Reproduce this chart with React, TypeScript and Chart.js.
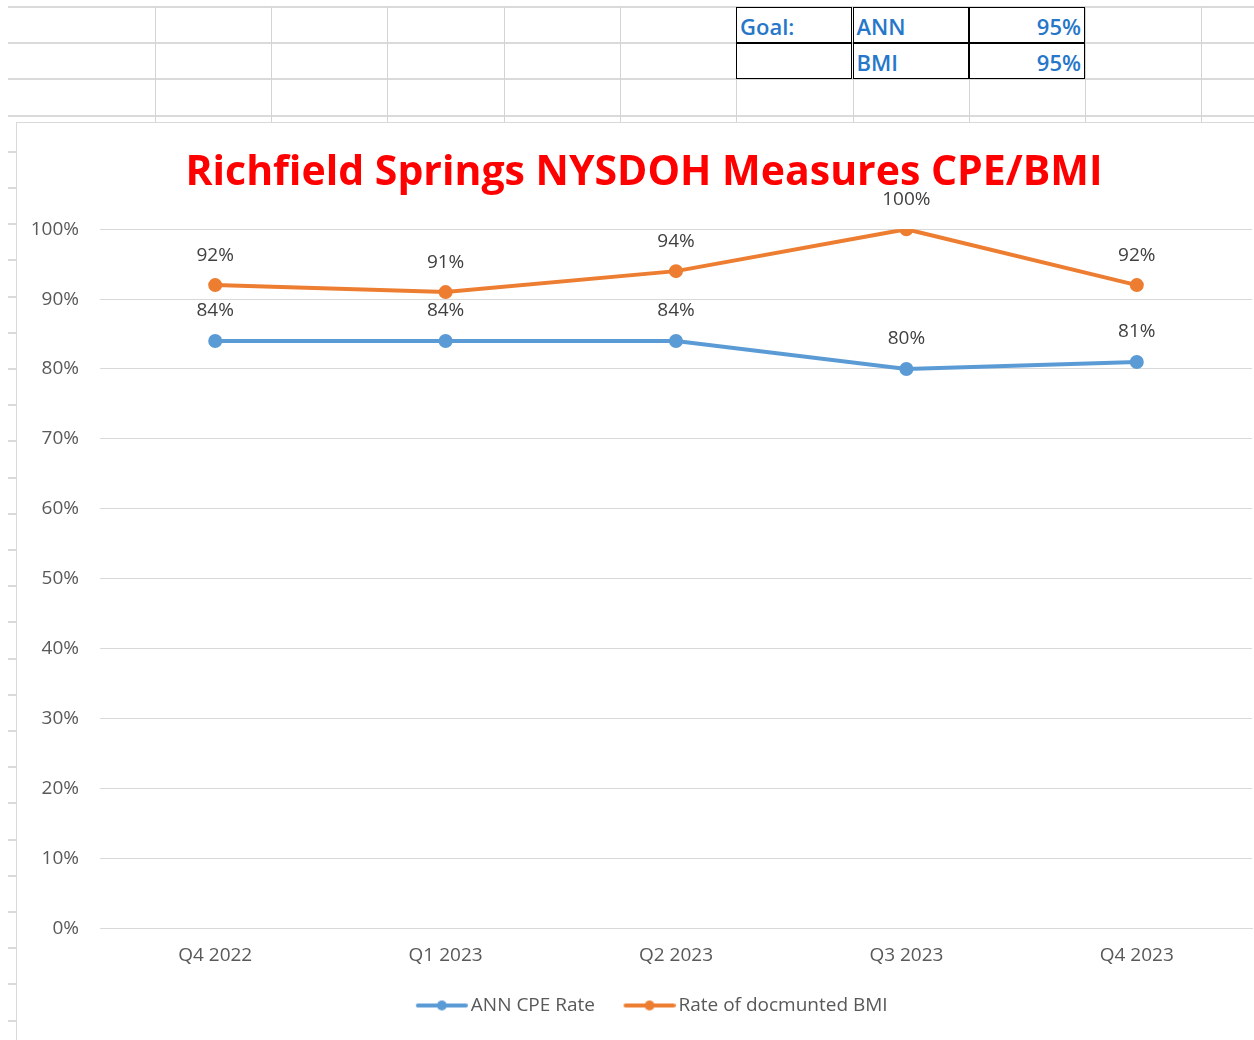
import React, { useEffect, useRef } from "react";
import { Chart, registerables } from "chart.js";

Chart.register(...registerables);

const categories = ["Q4 2022", "Q1 2023", "Q2 2023", "Q3 2023", "Q4 2023"];
const annCpeRate = [84, 84, 84, 80, 81];
const bmiRate = [92, 91, 94, 100, 92];
const seriesNames = ["ANN CPE Rate", "Rate of docmunted BMI"];
const goalRows = [
  ["Goal:", "ANN", "95%"],
  ["", "BMI", "95%"],
];
const chartTitle = "Richfield Springs NYSDOH Measures CPE/BMI";

const BLUE = "#5B9BD5";
const ORANGE = "#ED7D31";
const FONT = "'Open Sans', sans-serif";
const ICON_BOX = 61;

function legendIcon(color: string): HTMLCanvasElement {
  const c = document.createElement("canvas");
  const w = ICON_BOX + 13;
  c.width = w;
  c.height = 12;
  const ctx = c.getContext("2d")!;
  const x0 = w - 52;
  ctx.strokeStyle = color;
  ctx.lineWidth = 4;
  ctx.lineCap = "round";
  ctx.beginPath();
  ctx.moveTo(x0 + 2, 6);
  ctx.lineTo(x0 + 50, 6);
  ctx.stroke();
  ctx.fillStyle = color;
  ctx.beginPath();
  ctx.arc(x0 + 26, 6, 5, 0, Math.PI * 2);
  ctx.fill();
  return c;
}

const dataLabels = {
  id: "dataLabels",
  afterDatasetsDraw(chart: any) {
    const ctx = chart.ctx;
    ctx.save();
    ctx.font = `19px ${FONT}`;
    ctx.fillStyle = "#404040";
    ctx.textAlign = "center";
    ctx.textBaseline = "middle";
    chart.data.datasets.forEach((ds: any, i: number) => {
      const meta = chart.getDatasetMeta(i);
      meta.data.forEach((pt: any, j: number) => {
        ctx.fillText(`${ds.data[j]}%`, pt.x, pt.y - 30);
      });
    });
    ctx.restore();
  },
};

function ChartBox() {
  const ref = useRef<HTMLCanvasElement>(null);
  useEffect(() => {
    const chart = new Chart(ref.current!, {
      type: "line",
      data: {
        labels: categories,
        datasets: [
          {
            label: seriesNames[0],
            data: annCpeRate,
            borderColor: BLUE,
            backgroundColor: BLUE,
            borderWidth: 4,
            pointRadius: 5,
            pointHoverRadius: 5,
            tension: 0,
          },
          {
            label: seriesNames[1],
            data: bmiRate,
            borderColor: ORANGE,
            backgroundColor: ORANGE,
            borderWidth: 4,
            pointRadius: 5,
            pointHoverRadius: 5,
            tension: 0,
          },
        ],
      },
      options: {
        animation: false,
        responsive: false,
        devicePixelRatio: 1,
        layout: { autoPadding: false, padding: { top: 0, left: 12, right: -5, bottom: 15 } },
        plugins: {
          title: {
            display: true,
            text: chartTitle,
            color: "#FF0000",
            font: { family: FONT, size: 41, weight: "bold" },
            padding: { top: 26, bottom: 31 },
          },
          legend: {
            position: "bottom",
            labels: {
              usePointStyle: true,
              pointStyleWidth: ICON_BOX,
              boxHeight: 12,
              color: "#595959",
              font: { family: FONT, size: 19 },
              padding: 13,
              generateLabels: (c: any) =>
                c.data.datasets.map((ds: any, i: number) => ({
                  text: ds.label,
                  fillStyle: ds.borderColor,
                  strokeStyle: ds.borderColor,
                  lineWidth: 0,
                  pointStyle: legendIcon(ds.borderColor),
                  hidden: false,
                  datasetIndex: i,
                  fontColor: "#595959",
                })),
            },
          },
          tooltip: { enabled: false },
        },
        scales: {
          x: {
            offset: true,
            afterFit: (s: any) => {
              s.paddingRight = 2;
              s.paddingLeft = 0;
            },
            grid: { display: false, drawTicks: false },
            border: { display: true, color: "#D9D9D9", width: 1 },
            ticks: { color: "#595959", font: { family: FONT, size: 19 }, padding: 16 },
          },
          y: {
            min: 0,
            max: 100,
            afterFit: (s: any) => {
              s.width = 71;
            },
            grid: { color: "#D9D9D9", lineWidth: 1, drawTicks: false },
            border: { display: false },
            ticks: {
              stepSize: 10,
              padding: 21,
              color: "#595959",
              font: { family: FONT, size: 19 },
              callback: (v: any) => `${v}%`,
            },
          },
        },
      },
      plugins: [dataLabels],
    });
    return () => chart.destroy();
  }, []);
  return <canvas ref={ref} width={1237} height={917} style={{ display: "block" }} />;
}

const rowLines: number[] = [];
for (let y = 7; y < 1040; y += 36.2) rowLines.push(Math.round(y));
const colLines = [155, 271, 387, 504, 620, 736, 853, 969, 1085, 1201];

export default function App() {
  const cellStyle = (left: number, top: number, align: "left" | "right"): React.CSSProperties => ({
    position: "absolute",
    left,
    top,
    width: 116,
    height: 36,
    boxSizing: "border-box",
    border: "1.5px solid #000",
    color: "#2677C9",
    fontFamily: "'Open Sans', sans-serif",
    fontWeight: 600,
    fontSize: 22,
    lineHeight: "36px",
    textAlign: align,
    padding: "0 3px",
    background: "#fff",
  });
  return (
    <div
      style={{
        position: "fixed",
        left: 0,
        top: 0,
        width: 1254,
        height: 1040,
        background: "#fff",
        overflow: "hidden",
      }}
    >
      {rowLines.map((y) => (
        <div
          key={"r" + y}
          style={{ position: "absolute", left: 8, top: y - 1, width: 1246, height: 2, background: "#DADADA" }}
        />
      ))}
      {colLines.map((x) => (
        <div
          key={"c" + x}
          style={{ position: "absolute", left: x, top: 7, width: 1, height: 116, background: "#D4D4D4" }}
        />
      ))}
      {goalRows.map((row, r) =>
        row.map((t, c) => (
          <div key={`g${r}${c}`} style={cellStyle(736 + c * 116.5, 7 + r * 36, c === 2 ? "right" : "left")}>
            {t}
          </div>
        ))
      )}
      <div
        style={{
          position: "absolute",
          left: 16,
          top: 122,
          width: 1238,
          height: 918,
          background: "#fff",
          borderLeft: "1px solid #D9D9D9",
          borderTop: "1px solid #D9D9D9",
        }}
      >
        <ChartBox />
      </div>
    </div>
  );
}
